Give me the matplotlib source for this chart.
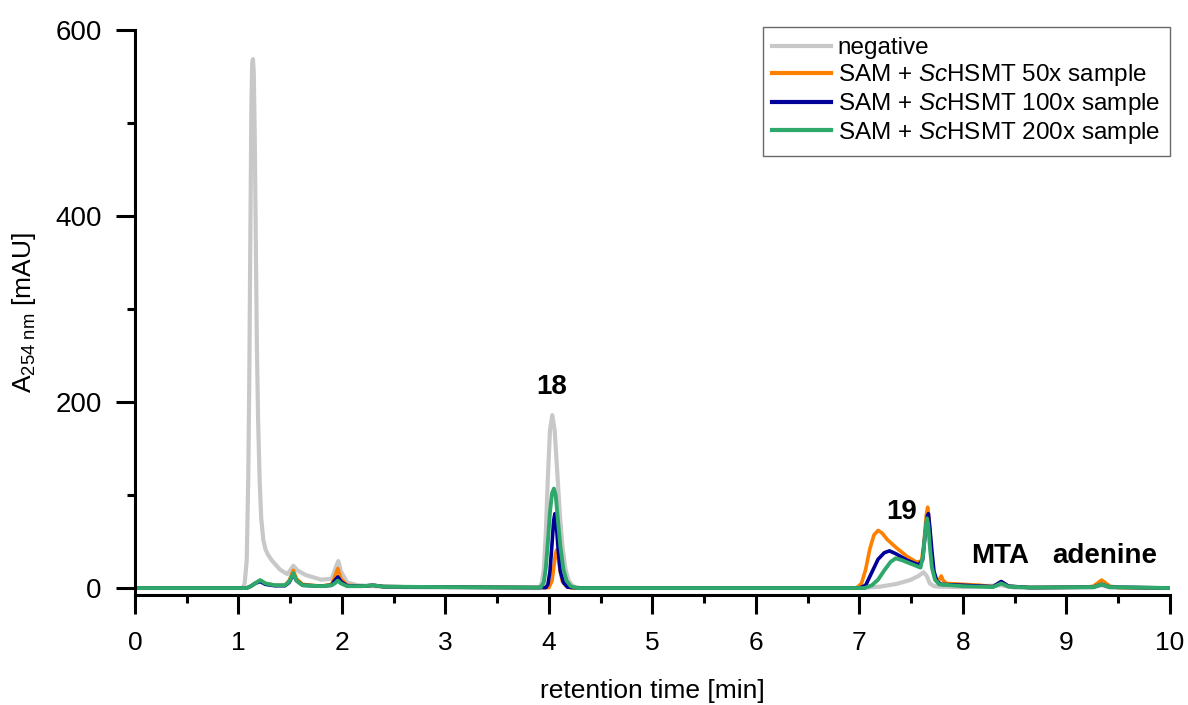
import matplotlib
matplotlib.use('Agg')
import matplotlib.pyplot as plt

plt.rcParams['font.family'] = ['Liberation Sans', 'DejaVu Sans']
plt.rcParams['mathtext.fontset'] = 'custom'
plt.rcParams['mathtext.rm'] = 'Liberation Sans'
plt.rcParams['mathtext.it'] = 'Liberation Sans:italic'

# chromatogram points (time in min, A254 in mAU)
neg_t = [0, 1.00, 1.04, 1.06, 1.08, 1.095, 1.105, 1.115, 1.125, 1.133, 1.14, 1.148, 1.158, 1.168,
         1.178, 1.19, 1.205, 1.22, 1.24, 1.26, 1.285, 1.32, 1.40, 1.47, 1.50, 1.53, 1.57, 1.65,
         1.80, 1.90, 1.94, 1.965, 1.99, 2.05, 2.15, 2.30, 2.60, 3.80, 3.90, 3.93, 3.95, 3.97,
         3.99, 4.01, 4.032, 4.055, 4.08, 4.105, 4.13, 4.16, 4.19, 4.23, 4.30, 5.0, 7.0, 7.2,
         7.36, 7.49, 7.57, 7.62, 7.65, 7.68, 7.72, 7.76, 8.0, 8.37, 8.5, 9.25, 9.34, 9.42, 10]
neg_v = [0, 0, 0, 5, 30, 120, 230, 380, 520, 565, 569, 555, 480, 370,
         260, 180, 115, 75, 52, 42, 36, 30, 20, 15, 19, 24, 19, 14,
         9, 10, 22, 29, 18, 6, 3, 2, 1, 0, 0, 5, 20, 60,
         120, 170, 186, 170, 125, 80, 45, 20, 8, 2, 0, 0, 0, 1.5,
         4.5, 8.6, 13, 17, 13, 5, 2, 1.5, 1, 3, 0.5, 0.5, 3, 0.5, 0]

s50_t = [0, 1.08, 1.12, 1.16, 1.21, 1.26, 1.35, 1.45, 1.49, 1.53, 1.56, 1.62, 1.80, 1.90, 1.93,
         1.96, 1.99, 2.05, 2.20, 2.30, 2.40, 3.0, 4.00, 4.03, 4.05, 4.063, 4.075, 4.088, 4.105,
         4.13, 4.17, 4.22, 6.97, 7.02, 7.06, 7.10, 7.14, 7.18, 7.22, 7.27, 7.36, 7.46, 7.55, 7.60,
         7.625, 7.645, 7.659, 7.672, 7.69, 7.71, 7.74, 7.77, 7.79, 7.81, 7.84, 8.0, 8.17, 8.29,
         8.37, 8.44, 8.65, 9.20, 9.26, 9.34, 9.42, 9.50, 10]
s50_v = [0, 0, 2, 5, 8, 5, 3, 3, 8, 19, 10, 4, 2, 4, 12,
         21, 10, 3, 2, 3, 1.5, 1, 0.5, 8, 25, 37, 41, 35, 20,
         7, 1.5, 0, 0, 5, 20, 42, 57, 62, 59, 52, 43, 34, 28, 29,
         50, 78, 87, 75, 45, 19, 8, 9, 13, 8, 5, 4, 3, 1.4,
         7, 2, 0.5, 1, 2, 8.6, 2, 0.5, 0]

s100_t = [0, 1.08, 1.12, 1.16, 1.21, 1.26, 1.35, 1.45, 1.49, 1.53, 1.56, 1.62, 1.80, 1.90, 1.93,
          1.96, 1.99, 2.05, 2.20, 2.30, 2.40, 3.0, 3.97, 3.99, 4.01, 4.03, 4.045, 4.057, 4.07,
          4.09, 4.11, 4.14, 4.18, 4.30, 7.0, 7.06, 7.12, 7.18, 7.24, 7.29, 7.35, 7.46, 7.57, 7.61,
          7.635, 7.655, 7.666, 7.68, 7.70, 7.72, 7.75, 7.79, 8.0, 8.29, 8.37, 8.44, 8.65, 9.26,
          9.34, 9.42, 10]
s100_v = [0, 0, 2, 5, 7, 4, 2.5, 2.5, 6, 15, 8, 3, 2, 3, 8,
          12, 7, 2.5, 2, 3, 1.5, 1, 0.5, 4, 18, 48, 72, 80, 70,
          40, 18, 6, 1, 0, 0, 3, 17, 31, 38, 40, 37, 30, 25, 30,
          58, 77, 80, 65, 40, 18, 7, 4, 3, 1.5, 7, 2, 0.5, 1,
          4, 1, 0]

s200_t = [0, 1.08, 1.12, 1.16, 1.21, 1.26, 1.35, 1.45, 1.49, 1.53, 1.56, 1.62, 1.80, 1.90, 1.93,
          1.96, 1.99, 2.05, 2.20, 2.30, 2.40, 3.0, 3.92, 3.95, 3.97, 3.99, 4.01, 4.03, 4.048, 4.065,
          4.085, 4.11, 4.14, 4.17, 4.21, 4.27, 7.05, 7.12, 7.18, 7.24, 7.30, 7.35, 7.41, 7.50,
          7.59, 7.615, 7.635, 7.652, 7.665, 7.68, 7.70, 7.73, 7.77, 8.0, 8.29, 8.37, 8.44, 8.65,
          9.26, 9.34, 9.42, 10]
s200_v = [0, 0, 2, 5, 8.6, 5, 3, 3, 7, 16, 8, 3, 2, 3, 5,
          8, 5, 2, 2, 3, 1.5, 1, 0.5, 6, 22, 50, 82, 102, 107, 100,
          75, 45, 20, 8, 2, 0, 0, 3, 9, 19, 28, 32, 30, 26,
          22, 35, 60, 75, 68, 45, 22, 9, 4, 2, 1, 5, 1.5, 0.5,
          1, 4, 1, 0]

labels = ['negative',
          r'SAM + $\mathit{Sc}$HSMT 50x sample',
          r'SAM + $\mathit{Sc}$HSMT 100x sample',
          r'SAM + $\mathit{Sc}$HSMT 200x sample']
colors = ['#c8c8c8', '#ff8000', '#000099', '#2fa86c']

fig = plt.figure(figsize=(11.88, 7.05), dpi=100)
ax = fig.add_axes([0.1136, 0.156, 0.8712, 0.801])

ax.plot(neg_t, neg_v, color=colors[0], lw=3.0, label=labels[0])
ax.plot(s50_t, s50_v, color=colors[1], lw=2.6, label=labels[1])
ax.plot(s100_t, s100_v, color=colors[2], lw=2.6, label=labels[2])
ax.plot(s200_t, s200_v, color=colors[3], lw=2.8, label=labels[3])

# peak labels
ax.text(4.03, 216, '18', fontsize=20, fontweight='bold', ha='center', va='center')
ax.text(7.41, 82, '19', fontsize=20, fontweight='bold', ha='center', va='center')
ax.text(8.36, 35, 'MTA', fontsize=20, fontweight='bold', ha='center', va='center')
ax.text(9.37, 35, 'adenine', fontsize=20, fontweight='bold', ha='center', va='center')

ax.set_xlim(0, 10)
ax.set_ylim(-7.5, 600)
ax.set_xticks(range(0, 11))
ax.set_xticks([i + 0.5 for i in range(10)], minor=True)
ax.set_yticks([0, 200, 400, 600])
ax.set_yticks([100, 300, 500], minor=True)

for s in ['top', 'right']:
    ax.spines[s].set_visible(False)
for s in ['left', 'bottom']:
    ax.spines[s].set_linewidth(2.2)

ax.tick_params(which='major', length=14, width=2.2, labelsize=19, pad=12)
ax.tick_params(which='minor', length=6, width=2.2)
ax.tick_params(axis='y', labelsize=20, pad=10)

ax.set_xlabel('retention time [min]', fontsize=19, labelpad=17)
ax.set_ylabel(r'A$_{\mathrm{254\ nm}}$ [mAU]', fontsize=19, labelpad=12)

leg = ax.legend(loc='upper right', bbox_to_anchor=(1.0, 1.005), borderaxespad=0,
                fontsize=17.5, frameon=True, fancybox=False, handlelength=2.4,
                handletextpad=0.3, labelspacing=0.12, borderpad=0.4)
leg.get_frame().set_edgecolor('#444444')
leg.get_frame().set_linewidth(1.0)
for line in leg.get_lines():
    line.set_linewidth(3)

plt.savefig('out.png', dpi=100)
